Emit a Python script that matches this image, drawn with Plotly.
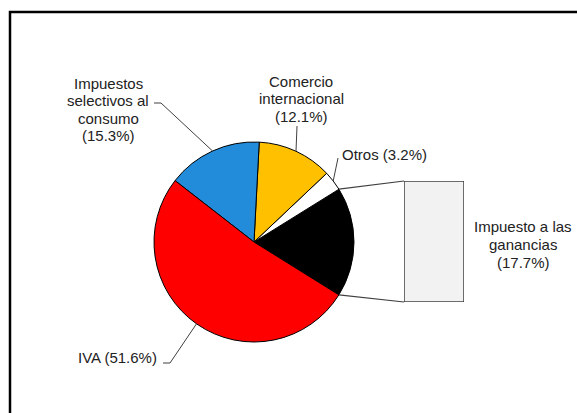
import numpy as np
import plotly.graph_objects as go

W, H = 577, 413

categorias = ["Impuesto a las ganancias", "Otros", "Comercio internacional",
              "Impuestos selectivos al consumo", "IVA"]
porcentajes = [17.7, 3.2, 12.1, 15.3, 51.6]
colores = ["#000000", "#FFFFFF", "#FFC000", "#228BDA", "#FF0000"]
lineas_etiqueta = [
    ["Impuesto a las", "ganancias"],
    ["Otros"],
    ["Comercio", "internacional"],
    ["Impuestos", "selectivos al", "consumo"],
    ["IVA"],
]

# layout (pixels from the top-left corner)
cx, cy, r = 254, 242, 100
barra = (404, 181, 464, 302)
pos_etiqueta = [(523, 227), (384, 154), (301, 81), (108, 83), (117, 357)]
guia_inicio = [[], [(338, 158)], [(297, 126)], [(154, 103), (161, 103)],
               [(163, 363), (170, 363)]]
paso_linea = 17.5


def px(x, y):
    return x / W, 1 - y / H


# slice angles (math degrees), first slice centred on 3 o'clock
inicio = -porcentajes[0] / 100 * 180
bordes = inicio + np.concatenate([[0], np.cumsum(porcentajes)]) * 3.6
medios = (bordes[:-1] + bordes[1:]) / 2


def borde(a):
    t = np.radians(a)
    return cx + r * np.cos(t), cy - r * np.sin(t)


fig = go.Figure()

fig.add_trace(go.Pie(
    labels=categorias,
    values=porcentajes,
    marker=dict(colors=colores, line=dict(color="#000000", width=1)),
    sort=False,
    direction="counterclockwise",
    rotation=90 - bordes[1],
    textinfo="none",
    hoverinfo="label+percent",
    showlegend=False,
    domain=dict(x=[(cx - r) / W, (cx + r) / W],
                y=[1 - (cy + r) / H, 1 - (cy - r) / H]),
))

fig.add_trace(go.Bar(
    x=[0], y=[porcentajes[0]], width=1,
    marker=dict(color="#F2F2F2", line=dict(color="#404040", width=1.5)),
    showlegend=False, hoverinfo="none",
))

shapes = []

# frame
shapes.append(dict(type="rect", xref="paper", yref="paper",
                   x0=10 / W, y0=1 - 12 / H, x1=1.05, y1=-0.05,
                   line=dict(color="#000000", width=2.5)))

# connectors from the split slice to the bar
for a, (bx, by) in [(bordes[1], (barra[0], barra[1])), (bordes[0], (barra[0], barra[3]))]:
    x0, y0 = px(*borde(a))
    x1, y1 = px(bx, by)
    shapes.append(dict(type="line", xref="paper", yref="paper",
                       x0=x0, y0=y0, x1=x1, y1=y1,
                       line=dict(color="#404040", width=1.2)))

# leader lines
for i, pts in enumerate(guia_inicio):
    if not pts:
        continue
    puntos = pts + [borde(medios[i])]
    path = "M " + " L ".join(f"{px(x, y)[0]},{px(x, y)[1]}" for x, y in puntos)
    shapes.append(dict(type="path", xref="paper", yref="paper", path=path,
                       line=dict(color="#404040", width=1)))

annotations = []
for i, lineas in enumerate(lineas_etiqueta):
    if len(lineas) == 1:
        lineas = [f"{lineas[0]} ({porcentajes[i]}%)"]
    else:
        lineas = lineas + [f"({porcentajes[i]}%)"]
    x, y = pos_etiqueta[i]
    for k, t in enumerate(lineas):
        ax, ay = px(x, y + k * paso_linea)
        annotations.append(dict(text=t, x=ax, y=ay, xref="paper", yref="paper",
                                xanchor="center", yanchor="middle", showarrow=False,
                                font=dict(family="Liberation Sans, Arial", size=15,
                                          color="#222222")))

fig.update_layout(
    width=W, height=H,
    margin=dict(l=0, r=0, t=0, b=0),
    paper_bgcolor="white", plot_bgcolor="white",
    xaxis=dict(domain=[barra[0] / W, barra[2] / W], range=[-0.5, 0.5], visible=False),
    yaxis=dict(domain=[1 - barra[3] / H, 1 - barra[1] / H], range=[0, porcentajes[0]],
               visible=False),
    shapes=shapes,
    annotations=annotations,
)

fig.write_html("out.html", config={"displayModeBar": False},
               post_script="document.body.style.margin='0';")
